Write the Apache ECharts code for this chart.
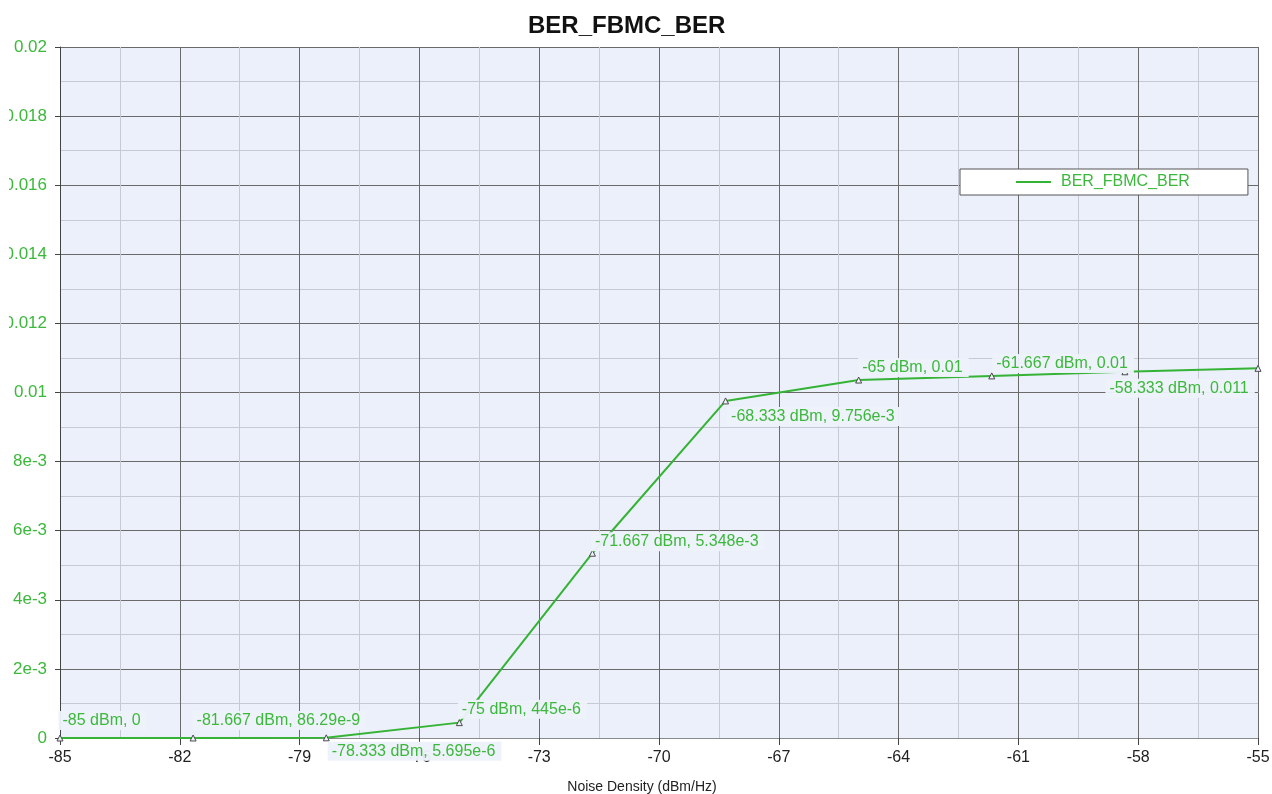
<!DOCTYPE html>
<html>
<head>
<meta charset="utf-8">
<title>BER_FBMC_BER</title>
<script src="https://cdn.jsdelivr.net/npm/echarts@6/dist/echarts.min.js"></script>
<style>
  html, body { margin: 0; padding: 0; background: #ffffff; overflow: hidden; }
  #chart { position: absolute; left: 9px; top: 0; width: 1263px; height: 794px; }
</style>
</head>
<body>
<div id="chart"></div>
<script>
// Sweep of noise density (dBm/Hz) against bit error rate
const noiseDensity = [-85, -81.667, -78.333, -75, -71.667, -68.333, -65, -61.667, -58.333, -55];
const berValues = [0, 86.29e-9, 5.695e-6, 445e-6, 5.348e-3, 9.756e-3, 0.01036, 0.01048, 0.0106, 0.0107];
const seriesName = 'BER_FBMC_BER';
const yTickLabels = ['0', '2e-3', '4e-3', '6e-3', '8e-3', '0.01', '0.012', '0.014', '0.016', '0.018', '0.02'];

// x axis runs -85 .. -55 with a tick every 3; ticks are counted from 0
const X_MIN = -85, X_MAX = -55, X_STEP = 3;

// where each point's annotation sits: [text start dx, text centre dy] from the point
const labelOffsets = [[3, -17], [4, -17], [6, 14], [3, -13], [3, -11], [6, 16], [4, -12], [5, -12], [-15, 17], null];

const GREEN = '#34b334';
const LABEL_GREEN = '#3cb83c';
const FONT = '"Liberation Sans", Arial, sans-serif';

function formatBer(v) {
  if (v === 0) return '0';
  if (Math.abs(v) >= 0.01) return String(+v.toFixed(3));
  const exp = Math.floor(Math.log10(Math.abs(v)) / 3) * 3;
  const mant = v / Math.pow(10, exp);
  return String(+mant.toPrecision(4)) + 'e' + exp;
}

const SYM = 6, PAD_L = 4;
const seriesData = noiseDensity.map((x, i) => {
  const off = labelOffsets[i];
  const item = { value: [x - X_MIN, berValues[i]] };
  if (off) {
    item.label = {
      show: true,
      position: [SYM / 2 + off[0] - PAD_L, SYM / 2 + off[1]],
      align: 'left',
      verticalAlign: 'middle',
      formatter: () => x + ' dBm, ' + formatBer(berValues[i])
    };
  } else {
    item.label = { show: false };
  }
  return item;
});

const chart = echarts.init(document.getElementById('chart'), null, { renderer: 'canvas' });

const option = {
  backgroundColor: '#ffffff',
  animation: false,
  title: {
    text: seriesName,
    left: 514,
    top: 9,
    textStyle: { fontFamily: FONT, fontSize: 24, fontWeight: 'bold', color: '#111111' }
  },
  legend: {
    left: 951,
    top: 169,
    orient: 'horizontal',
    selectedMode: false,
    backgroundColor: '#ffffff',
    borderColor: '#555555',
    borderWidth: 1,
    borderRadius: 0,
    padding: [5, 58, 5, 56],
    itemWidth: 35,
    itemHeight: 2,
    itemStyle: { color: GREEN, borderWidth: 0 },
    data: [{ name: seriesName, icon: 'rect', itemStyle: { color: GREEN, borderWidth: 0 } }],
    textStyle: { fontFamily: FONT, fontSize: 16, color: LABEL_GREEN, padding: [0, 0, 0, 5] }
  },
  grid: {
    left: 51,
    right: 14,
    top: 47,
    bottom: 56,
    outerBoundsMode: 'none',
    containLabel: false,
    show: true,
    backgroundColor: '#ebf0fb',
    borderWidth: 0
  },
  xAxis: {
    type: 'value',
    min: 0,
    max: X_MAX - X_MIN,
    interval: X_STEP,
    name: 'Noise Density (dBm/Hz)',
    nameLocation: 'middle',
    nameGap: 42,
    nameTextStyle: { fontFamily: FONT, fontSize: 14, color: '#222222', padding: [0, 34, 0, 0] },
    axisLine: { show: true, lineStyle: { color: '#8a8a8a', width: 1 } },
    axisTick: { show: true, length: 7, lineStyle: { color: '#444444' } },
    axisLabel: {
      margin: 12,
      fontFamily: FONT,
      fontSize: 16,
      color: '#222222',
      formatter: v => String(Math.round(v + X_MIN))
    },
    splitLine: { show: true, lineStyle: { color: '#6a6a6a', width: 1 } },
    minorTick: { show: false, splitNumber: 2 },
    minorSplitLine: { show: true, lineStyle: { color: '#c6cad4', width: 1 } }
  },
  yAxis: {
    type: 'value',
    min: 0,
    max: 0.02,
    interval: 0.002,
    axisLine: { show: true, lineStyle: { color: '#444444', width: 1 } },
    axisTick: { show: true, length: 5, lineStyle: { color: '#444444' } },
    axisLabel: {
      margin: 13,
      fontFamily: FONT,
      fontSize: 17,
      color: LABEL_GREEN,
      formatter: (v, idx) => yTickLabels[idx]
    },
    splitLine: { show: true, lineStyle: { color: '#6a6a6a', width: 1 } },
    minorTick: { show: false, splitNumber: 2 },
    minorSplitLine: { show: true, lineStyle: { color: '#c6cad4', width: 1 } }
  },
  series: [{
    name: seriesName,
    type: 'line',
    data: seriesData,
    symbol: 'triangle',
    symbolSize: SYM,
    showAllSymbol: true,
    clip: false,
    lineStyle: { color: GREEN, width: 2 },
    itemStyle: { color: '#eef2fb', borderColor: '#4a4a4a', borderWidth: 1 },
    label: {
      fontFamily: FONT,
      fontSize: 16,
      color: LABEL_GREEN,
      backgroundColor: 'rgba(237,241,250,0.96)',
      padding: [2, 6, 1, PAD_L]
    },
    emphasis: { disabled: true }
  }]
};

chart.setOption(option);
</script>
</body>
</html>
